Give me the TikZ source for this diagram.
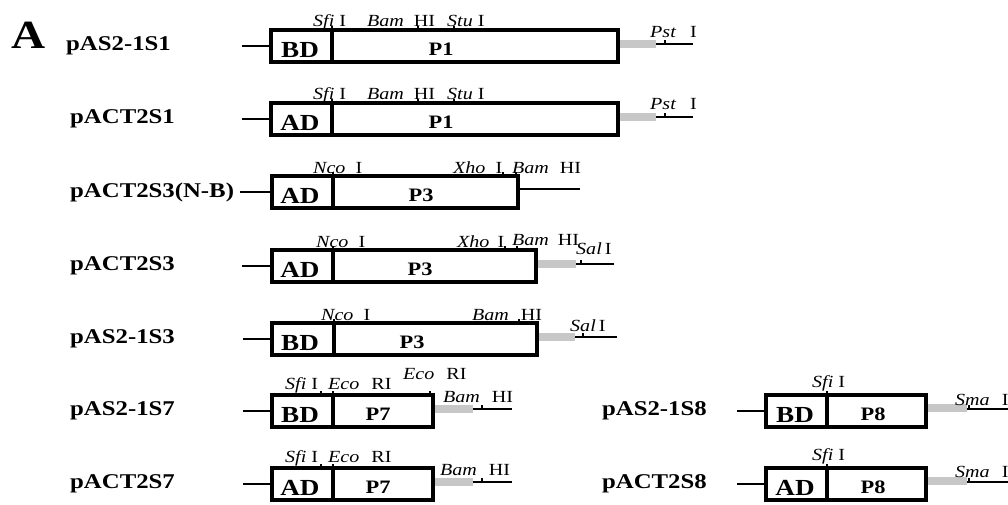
\documentclass[tikz,border=0pt]{standalone}
\usepackage{fontspec}
\setmainfont{Liberation Serif}[FakeStretch=1.18]
\newcommand{\enz}[3][5pt]{\textit{#2}\hspace{#1}#3}
\tikzset{
  plasmid/.style={font=\fontsize{21}{21}\selectfont\bfseries, anchor=west, inner sep=0pt},
  frame/.style={line width=3.2pt},
  wire/.style={line width=1.8pt},
  linker/.style={line width=8pt, black!22},
  cut/.style={line width=1.3pt},
  dlabel/.style={font=\fontsize{23}{23}\selectfont\bfseries, inner sep=0pt},
  gene/.style={font=\fontsize{19}{19}\selectfont\bfseries, inner sep=0pt},
  site/.style={font=\fontsize{17}{17}\selectfont, anchor=base west, inner sep=0pt},
}

\begin{document}
\begin{tikzpicture}[x=1pt,y=-1pt]
  \useasboundingbox (0,0) rectangle (1008,505);
  \node[font=\fontsize{40}{40}\selectfont\bfseries, inner sep=0pt] (panel) at (29,35) {A};

  % pAS2-1S1
  \begin{scope}[shift={(0,46)}]
    \node[plasmid] (n1) at (66,0) {pAS2-1S1};
    \draw[wire] (242,0) -- (271,0);
    \draw[linker] (618,-2) -- (656,-2);
    \draw[wire] (656,-2) -- (693,-2);
    \draw[frame] (271,-16) rectangle (618,16) (332,-16) -- (332,16);
    \node[dlabel] (bd1) at (300,4) {BD};
    \node[gene] (p1) at (441,3) {P1};
    \draw[cut] (332,-16) -- ++(0,-4) (418,-16) -- ++(0,-4)
      (454,-16) -- ++(0,-4) (665,-2) -- ++(0,-4);
    \node[site] (sfi1) at (313,-19) {\enz{Sfi}{I}};
    \node[site] (bam1) at (367,-19) {\enz[10pt]{Bam}{HI}};
    \node[site] (stu1) at (447,-19) {\enz{Stu}{I}};
    \node[site] (pst1) at (650,-8) {\enz[14pt]{Pst}{I}};
  \end{scope}

  % pACT2S1
  \begin{scope}[shift={(0,119)}]
    \node[plasmid] (n2) at (70,0) {pACT2S1};
    \draw[wire] (242,0) -- (271,0);
    \draw[linker] (618,-2) -- (656,-2);
    \draw[wire] (656,-2) -- (693,-2);
    \draw[frame] (271,-16) rectangle (618,16) (332,-16) -- (332,16);
    \node[dlabel] (ad2) at (300,4) {AD};
    \node[gene] (p2) at (441,3) {P1};
    \draw[cut] (332,-16) -- ++(0,-4) (418,-16) -- ++(0,-4)
      (454,-16) -- ++(0,-4) (665,-2) -- ++(0,-4);
    \node[site] (sfi2) at (313,-19) {\enz{Sfi}{I}};
    \node[site] (bam2) at (367,-19) {\enz[10pt]{Bam}{HI}};
    \node[site] (stu2) at (447,-19) {\enz{Stu}{I}};
    \node[site] (pst2) at (650,-9) {\enz[14pt]{Pst}{I}};
  \end{scope}

  % pACT2S3(N-B)
  \begin{scope}[shift={(0,192)}]
    \node[plasmid] (n3) at (70,0) {pACT2S3(N-B)};
    \draw[wire] (240,0) -- (272,0);
    \draw[wire] (518,-3) -- (580,-3);
    \draw[frame] (272,-16) rectangle (518,16) (333,-16) -- (333,16);
    \node[dlabel] (ad3) at (300,4) {AD};
    \node[gene] (p3) at (421,3) {P3};
    \draw[cut] (333,-16) -- ++(0,-4) (503,-16) -- ++(0,-4) (516,-16) -- ++(0,-4);
    \node[site] (nco3) at (313,-19) {\enz[10pt]{Nco}{I}};
    \node[site] (xho3) at (453,-19) {\enz[10pt]{Xho}{I}};
    \node[site] (bam3) at (512,-19) {\enz[11pt]{Bam}{HI}};
  \end{scope}

  % pACT2S3
  \begin{scope}[shift={(0,266)}]
    \node[plasmid] (n4) at (70,0) {pACT2S3};
    \draw[wire] (242,0) -- (272,0);
    \draw[linker] (536,-2) -- (576,-2);
    \draw[wire] (576,-2) -- (614,-2);
    \draw[frame] (272,-16) rectangle (536,16) (333,-16) -- (333,16);
    \node[dlabel] (ad4) at (300,4) {AD};
    \node[gene] (p4) at (420,3) {P3};
    \draw[cut] (333,-16) -- ++(0,-4) (505,-16) -- ++(0,-4)
      (517,-16) -- ++(0,-4) (581,-2) -- ++(0,-4);
    \node[site] (nco4) at (316,-19) {\enz[10pt]{Nco}{I}};
    \node[site] (xho4) at (457,-19) {\enz[8pt]{Xho}{I}};
    \node[site] (bam4) at (512,-21) {\enz[9pt]{Bam}{HI}};
    \node[site] (sal4) at (576,-12) {\enz[3pt]{Sal}{I}};
  \end{scope}

  % pAS2-1S3
  \begin{scope}[shift={(0,339)}]
    \node[plasmid] (n5) at (70,0) {pAS2-1S3};
    \draw[wire] (243,0) -- (272,0);
    \draw[linker] (537,-2) -- (575,-2);
    \draw[wire] (575,-2) -- (617,-2);
    \draw[frame] (272,-16) rectangle (537,16) (334,-16) -- (334,16);
    \node[dlabel] (bd5) at (300,4) {BD};
    \node[gene] (p5) at (412,3) {P3};
    \draw[cut] (334,-16) -- ++(0,-4) (519,-16) -- ++(0,-4) (583,-2) -- ++(0,-4);
    \node[site] (nco5) at (321,-19) {\enz[10pt]{Nco}{I}};
    \node[site] (bam5) at (472,-19) {\enz[12pt]{Bam}{HI}};
    \node[site] (sal5) at (570,-8) {\enz[3pt]{Sal}{I}};
  \end{scope}

  % pAS2-1S7
  \begin{scope}[shift={(0,411)}]
    \node[plasmid] (n6) at (70,0) {pAS2-1S7};
    \draw[wire] (243,0) -- (272,0);
    \draw[linker] (433,-2) -- (473,-2);
    \draw[wire] (473,-2) -- (512,-2);
    \draw[frame] (272,-16) rectangle (433,16) (333,-16) -- (333,16);
    \node[dlabel] (bd6) at (300,4) {BD};
    \node[gene] (p6) at (378,3) {P7};
    \draw[cut] (321,-16) -- ++(0,-4) (333,-16) -- ++(0,-4)
      (430,-16) -- ++(0,-4) (482,-2) -- ++(0,-4);
    \node[site] (sfi6) at (285,-22) {\enz{Sfi}{I}};
    \node[site] (eco6) at (328,-22) {\enz[12pt]{Eco}{RI}};
    \node[site] (ecob6) at (403,-32) {\enz[12pt]{Eco}{RI}};
    \node[site] (bam6) at (443,-9) {\enz[12pt]{Bam}{HI}};
  \end{scope}

  % pACT2S7
  \begin{scope}[shift={(0,484)}]
    \node[plasmid] (n7) at (70,0) {pACT2S7};
    \draw[wire] (243,0) -- (272,0);
    \draw[linker] (433,-2) -- (473,-2);
    \draw[wire] (473,-2) -- (512,-2);
    \draw[frame] (272,-16) rectangle (433,16) (333,-16) -- (333,16);
    \node[dlabel] (ad7) at (300,4) {AD};
    \node[gene] (p7) at (378,3) {P7};
    \draw[cut] (321,-16) -- ++(0,-4) (333,-16) -- ++(0,-4) (482,-2) -- ++(0,-4);
    \node[site] (sfi7) at (285,-22) {\enz{Sfi}{I}};
    \node[site] (eco7) at (328,-22) {\enz[12pt]{Eco}{RI}};
    \node[site] (bam7) at (440,-9) {\enz[12pt]{Bam}{HI}};
  \end{scope}

  % pAS2-1S8
  \begin{scope}[shift={(0,411)}]
    \node[plasmid, anchor=east] (n8) at (707,0) {pAS2-1S8};
    \draw[wire] (737,0) -- (766,0);
    \draw[linker] (926,-3) -- (967,-3);
    \draw[wire] (967,-2) -- (1008,-2);
    \draw[frame] (766,-16) rectangle (926,16) (827,-16) -- (827,16);
    \node[dlabel] (bd8) at (795,4) {BD};
    \node[gene] (p8) at (873,3) {P8};
    \draw[cut] (827,-16) -- ++(0,-4) (969,-2) -- ++(0,-4);
    \node[site] (sfi8) at (812,-24) {\enz{Sfi}{I}};
    \node[site] (sma8) at (955,-6) {\enz[12pt]{Sma}{I}};
  \end{scope}

  % pACT2S8
  \begin{scope}[shift={(0,484)}]
    \node[plasmid, anchor=east] (n9) at (707,0) {pACT2S8};
    \draw[wire] (737,0) -- (766,0);
    \draw[linker] (926,-3) -- (967,-3);
    \draw[wire] (967,-2) -- (1008,-2);
    \draw[frame] (766,-16) rectangle (926,16) (827,-16) -- (827,16);
    \node[dlabel] (ad9) at (795,4) {AD};
    \node[gene] (p9) at (873,3) {P8};
    \draw[cut] (827,-16) -- ++(0,-4) (969,-2) -- ++(0,-4);
    \node[site] (sfi9) at (812,-24) {\enz{Sfi}{I}};
    \node[site] (sma9) at (955,-7) {\enz[12pt]{Sma}{I}};
  \end{scope}
\end{tikzpicture}
\end{document}
